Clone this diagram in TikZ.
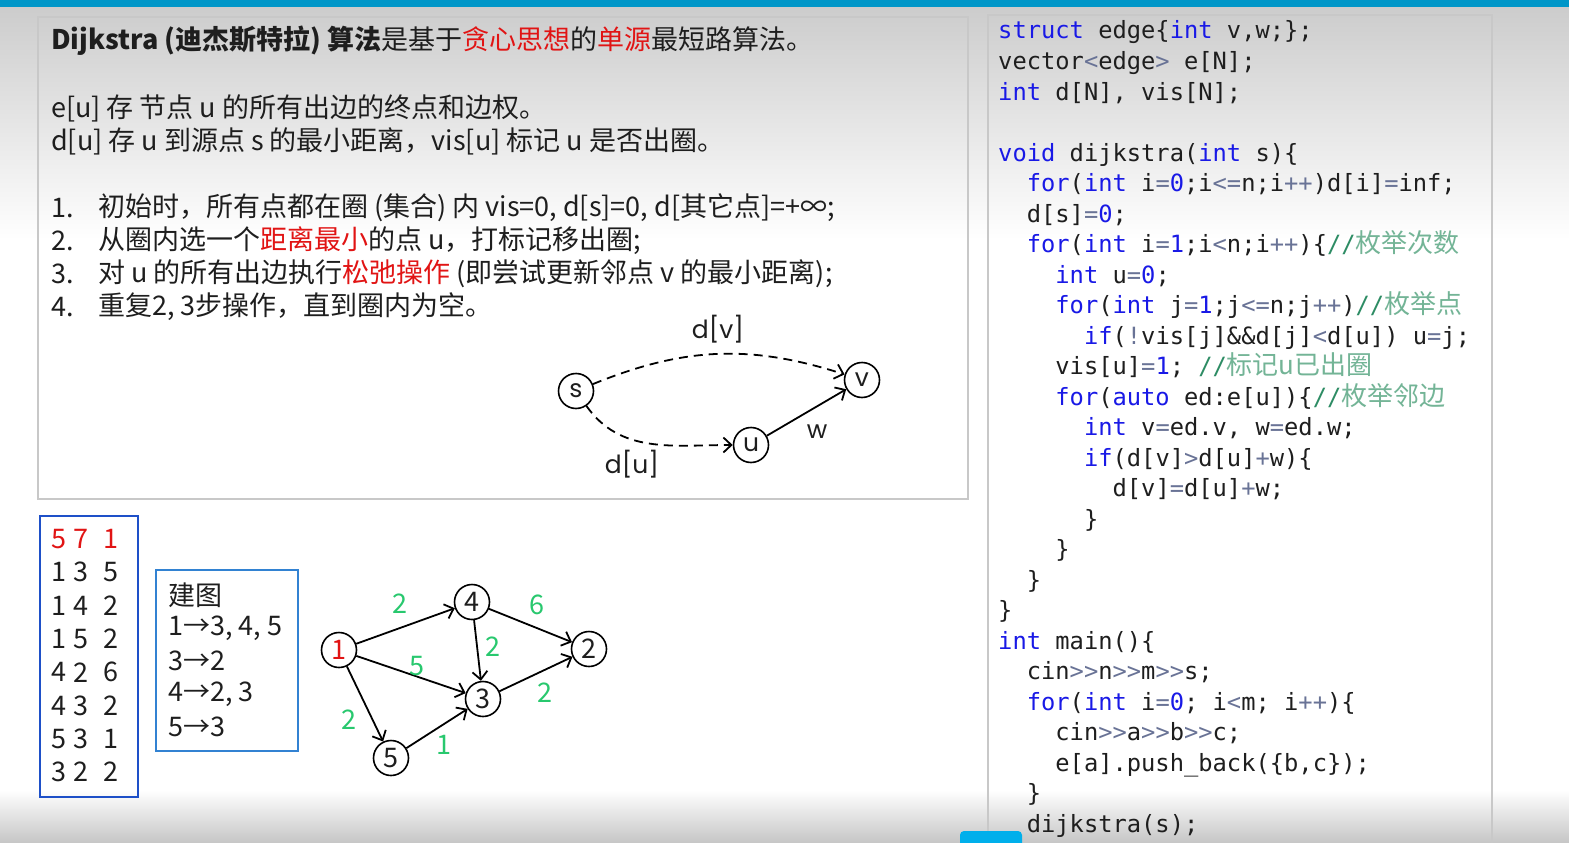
\documentclass[tikz,border=0pt]{standalone}
\usepackage{fontspec}
\setmainfont{Noto Sans CJK SC}
\newfontfamily\codefont{DejaVu Sans Mono}
\newfontfamily\cjk{Noto Sans CJK SC}
\newfontfamily\geo{Poppins}
\usepackage{xcolor}
\usetikzlibrary{arrows.meta}

\definecolor{barblue}{RGB}{0,150,200}
\definecolor{tabblue}{RGB}{0,175,235}
\definecolor{hotred}{RGB}{225,20,20}
\definecolor{edgegreen}{RGB}{40,200,110}
\definecolor{kwblue}{RGB}{25,25,230}
\definecolor{opgray}{RGB}{105,115,150}
\definecolor{cmgreen}{RGB}{45,140,100}
\definecolor{cmlight}{RGB}{115,180,150}
\definecolor{boxblue}{RGB}{30,80,200}
\definecolor{buildblue}{RGB}{50,130,210}
\definecolor{panelgray}{RGB}{200,200,200}
\definecolor{inkblack}{RGB}{30,30,30}

% code colouring
\newcommand\kw[1]{\textcolor{kwblue}{#1}}
\newcommand\op[1]{\textcolor{opgray}{#1}}
\newcommand\cm[1]{\textcolor{cmgreen}{//}\textcolor{cmlight}{\cjk\fontsize{26}{26}\selectfont #1}}
\newcommand\codeline[3]{\node[codetext, anchor=base west] (code#2) at ({998+28.6*#1},{39+30.5*(#2-1)}) {#3};}

\tikzset{
  bodytext/.style={anchor=west, inner sep=0pt, text=inkblack, font=\fontsize{27}{30}\selectfont},
  codetext/.style={inner sep=0pt, text=inkblack, font=\codefont\fontsize{23.75}{24}\selectfont},
  numtext/.style={inner sep=0pt, text=inkblack, font=\fontsize{27}{27}\selectfont},
  vertex/.style={circle, draw, line width=1.6pt, minimum size=35pt, inner sep=0pt, text=inkblack, font=\fontsize{27}{27}\selectfont},
  gvertex/.style={vertex, font=\geo\fontsize{25}{25}\selectfont},
  glabel/.style={inner sep=0pt, text=inkblack, font=\geo\fontsize{25}{25}\selectfont},
  weight/.style={inner sep=0pt, text=edgegreen, font=\fontsize{27}{27}\selectfont},
  arc/.style={->, line width=1.8pt},
  dasharc/.style={arc, dash pattern=on 9pt off 6pt},
}

\begin{document}
\begin{tikzpicture}[x=1pt, y=-1pt, >={Straight Barb[length=8pt,width=15pt]}]
  \useasboundingbox (0,0) rectangle (1569,843);
  % screen background
  \fill[white] (0,0) rectangle (1569,843);
  \shade[top color=gray!40, bottom color=white] (0,6) rectangle (1569,240);
  \shade[top color=white, bottom color=gray!45] (0,790) rectangle (1569,843);
  \fill[barblue] (0,0) rectangle (1569,7);

  % panels
  \draw[panelgray, line width=1.4pt] (38,17) rectangle (968,499);
  \draw[panelgray, line width=1.4pt] (988,843) -- (988,15) -- (1492,15) -- (1492,843);
  \fill[tabblue, rounded corners=4pt] (960,831) rectangle (1022,850);

  % description
  \node[bodytext] (title) at (51,41) {\textbf{Dijkstra (迪杰斯特拉) 算法}是基于\textcolor{hotred}{贪心思想}的\textcolor{hotred}{单源}最短路算法。};
  \node[bodytext] (eline) at (51,108) {e[u] 存 节点 u 的所有出边的终点和边权。};
  \node[bodytext] (dline) at (51,141) {d[u] 存 u 到源点 s 的最小距离，vis[u] 标记 u 是否出圈。};
  \node[bodytext] (num1) at (51,208) {1.};
  \node[bodytext] (step1) at (98,208) {初始时，所有点都在圈 (集合) 内 vis=0, d[s]=0, d[其它点]=+∞;};
  \node[bodytext] (num2) at (51,241) {2.};
  \node[bodytext] (step2) at (98,241) {从圈内选一个\textcolor{hotred}{距离最小}的点 u，打标记移出圈;};
  \node[bodytext] (num3) at (51,274) {3.};
  \node[bodytext] (step3) at (98,274) {对 u 的所有出边执行\textcolor{hotred}{松弛操作} (即尝试更新邻点 v 的最小距离);};
  \node[bodytext] (num4) at (51,307) {4.};
  \node[bodytext] (step4) at (98,307) {重复2, 3步操作，直到圈内为空。};

  % relaxation sketch
  \node[gvertex] (s) at (576,391) {s};
  \node[gvertex] (u) at (751,445) {u};
  \node[gvertex] (v) at (862,380) {v};
  \draw[dasharc] (s) to[bend left=20] (v);
  \draw[dasharc] (s) to[out=-55, in=180] (u);
  \draw[arc] (u) -- (v);
  \node[glabel] (dv) at (718,329) {d[v]};
  \node[glabel] (du) at (632,464) {d[u]};
  \node[glabel] (wlab) at (817,432) {w};

  % input data
  \draw[boxblue, line width=1.4pt] (40,516) rectangle (138,797);
  \node[numtext, text=hotred] (ina1) at (59,539) {5};
  \node[numtext, text=hotred] (inb1) at (81,539) {7};
  \node[numtext, text=hotred] (inc1) at (111,539) {1};
  \foreach \p/\q/\w [count=\r from 2] in {1/3/5,1/4/2,1/5/2,4/2/6,4/3/2,5/3/1,3/2/2} {
    \node[numtext] (ina\r) at (59,{539+33.3*(\r-1)}) {\p};
    \node[numtext] (inb\r) at (81,{539+33.3*(\r-1)}) {\q};
    \node[numtext] (inc\r) at (111,{539+33.3*(\r-1)}) {\w};
  }

  % adjacency
  \draw[buildblue, line width=1.4pt] (156,570) rectangle (298,751);
  \node[bodytext] (build0) at (168,595) {建图};
  \node[bodytext] (build1) at (168,628) {1→3, 4, 5};
  \node[bodytext] (build2) at (168,661) {3→2};
  \node[bodytext] (build3) at (168,694) {4→2, 3};
  \node[bodytext] (build4) at (168,727) {5→3};

  % example graph
  \node[vertex, text=hotred] (n1) at (339,650) {1};
  \node[vertex] (n4) at (472,602) {4};
  \node[vertex] (n2) at (589,649) {2};
  \node[vertex] (n3) at (483,699) {3};
  \node[vertex] (n5) at (391,758) {5};
  \draw[arc] (n1) -- (n4);
  \draw[arc] (n4) -- (n2);
  \draw[arc] (n4) -- (n3);
  \draw[arc] (n1) -- (n3);
  \draw[arc] (n3) -- (n2);
  \draw[arc] (n1) -- (n5);
  \draw[arc] (n5) -- (n3);
  \node[weight] (w14) at (400,604) {2};
  \node[weight] (w42) at (537,605) {6};
  \node[weight] (w43) at (493,647) {2};
  \node[weight] (w13) at (417,666) {5};
  \node[weight] (w32) at (545,693) {2};
  \node[weight] (w15) at (349,720) {2};
  \node[weight] (w53) at (444,745) {1};

  % code
  \codeline{0}{1}{\kw{struct} edge\{\kw{int} v,w;\};}
  \codeline{0}{2}{vector\op{<}edge\op{>} e[N];}
  \codeline{0}{3}{\kw{int} d[N], vis[N];}
  \codeline{0}{5}{\kw{void} dijkstra(\kw{int} s)\{}
  \codeline{1}{6}{\kw{for}(\kw{int} i\op{=}\kw{0};i\op{<=}n;i\op{++})d[i]\op{=}inf;}
  \codeline{1}{7}{d[s]\op{=}\kw{0};}
  \codeline{1}{8}{\kw{for}(\kw{int} i\op{=}\kw{1};i\op{<}n;i\op{++})\{\cm{枚举次数}}
  \codeline{2}{9}{\kw{int} u\op{=}\kw{0};}
  \codeline{2}{10}{\kw{for}(\kw{int} j\op{=}\kw{1};j\op{<=}n;j\op{++})\cm{枚举点}}
  \codeline{3}{11}{\kw{if}(\op{!}vis[j]\&\&d[j]\op{<}d[u]) u\op{=}j;}
  \codeline{2}{12}{vis[u]\op{=}\kw{1}; \cm{标记u已出圈}}
  \codeline{2}{13}{\kw{for}(\kw{auto} ed:e[u])\{\cm{枚举邻边}}
  \codeline{3}{14}{\kw{int} v\op{=}ed.v, w\op{=}ed.w;}
  \codeline{3}{15}{\kw{if}(d[v]\op{>}d[u]\op{+}w)\{}
  \codeline{4}{16}{d[v]\op{=}d[u]\op{+}w;}
  \codeline{3}{17}{\}}
  \codeline{2}{18}{\}}
  \codeline{1}{19}{\}}
  \codeline{0}{20}{\}}
  \codeline{0}{21}{\kw{int} main()\{}
  \codeline{1}{22}{cin\op{>>}n\op{>>}m\op{>>}s;}
  \codeline{1}{23}{\kw{for}(\kw{int} i\op{=}\kw{0}; i\op{<}m; i\op{++})\{}
  \codeline{2}{24}{cin\op{>>}a\op{>>}b\op{>>}c;}
  \codeline{2}{25}{e[a].push\_back(\{b,c\});}
  \codeline{1}{26}{\}}
  \codeline{1}{27}{dijkstra(s);}
\end{tikzpicture}
\end{document}
